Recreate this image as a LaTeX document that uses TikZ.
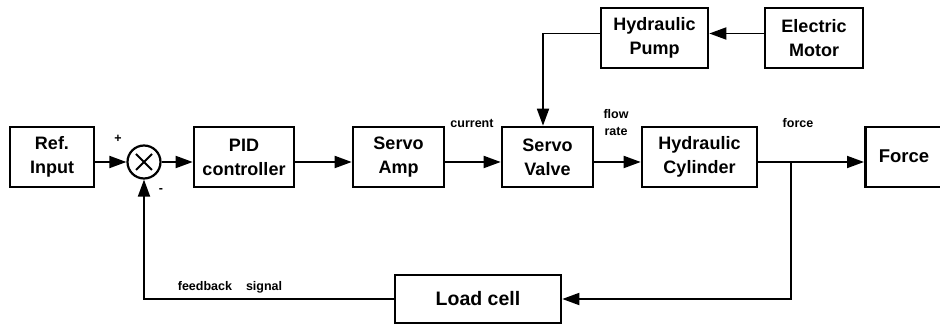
\documentclass[tikz,border=0pt]{standalone}
\usepackage{fontspec}
\setmainfont{Liberation Sans}
\usetikzlibrary{arrows.meta}
\begin{document}
\begin{tikzpicture}[x=1pt,y=-1pt,
  blk/.style={draw, line width=2.6pt, rectangle, minimum height=60pt, inner sep=0pt,
     align=center, font=\fontsize{18}{24}\selectfont\bfseries},
  lbl/.style={font=\fontsize{12.5}{17}\selectfont\bfseries, inner sep=0pt, align=center},
  arr/.style={line width=1.8pt, -{Triangle[length=17pt,width=12pt]}},
  ln/.style={line width=1.8pt}]
\clip (0,0) rectangle (940,328);
\fill[white] (0,0) rectangle (940,328);
% blocks
\node[blk, minimum width=84pt] (ref) at (52,157) {Ref.\\Input};
\node[circle, draw, line width=2.2pt, minimum size=33pt, inner sep=0pt] (sum) at (144,162) {};
\draw[line width=2pt] ([shift={(-8,-8)}]sum.center) -- ([shift={(8,8)}]sum.center)
                      ([shift={(-8,8)}]sum.center) -- ([shift={(8,-8)}]sum.center);
\node[blk, minimum width=100pt] (pid) at (244,157) {PID\\controller};
\node[blk, minimum width=91pt] (amp) at (398.5,157) {Servo\\Amp};
\node[blk, minimum width=91pt] (valve) at (547.5,157) {Servo\\Valve};
\node[blk, minimum width=115pt] (cyl) at (699.5,157) {Hydraulic\\Cylinder};
\node[blk, minimum width=80pt, anchor=west] (force) at (864,157) {\hspace{0pt}};
\node[font=\fontsize{18.5}{24}\selectfont\bfseries, inner sep=0pt] (forcetxt) at (904,156) {Force};
\node[blk, minimum width=107pt] (pump) at (654.5,38) {Hydraulic\\Pump};
\node[blk, minimum width=98pt] (motor) at (814,38) {Electric\\Motor};
\node[blk, minimum width=166pt, minimum height=48pt, font=\fontsize{19.5}{24}\selectfont\bfseries] (load) at (478,299) {Load cell};
% branch point
\coordinate (br) at (791,162);
% main connectors
\draw[arr] (ref.east |- sum) -- (sum.west);
\draw[arr] (sum.east) -- (sum.east -| pid.west);
\draw[arr] (pid.east |- sum) -- (amp.west |- sum);
\draw[arr] (amp.east |- sum) -- (valve.west |- sum);
\draw[arr] (valve.east |- sum) -- (cyl.west |- sum);
\draw[arr] (cyl.east |- sum) -- (force.west |- sum);
% feedback
\draw[arr] (br) -- (br |- load) -- (load.east);
\draw[arr] (load.west) -- (sum |- load) -- (sum.south);
% pump / motor
\draw[arr] ([yshift=4.5pt]motor.west) -- ([yshift=4.5pt]pump.east);
\draw[arr] ([yshift=4.5pt]pump.west) -| ([xshift=-4.5pt]valve.north);
% labels
\node[lbl] (plus) at (118,139) {+};
\node[lbl] (minus) at (161,191) {-};
\node[lbl] (cur) at (472,123) {current};
\node[lbl] (flow) at (616,123) {flow\\rate};
\node[lbl] (frc) at (798,123) {force};
\node[lbl] (fb) at (230,287) {feedback\hspace{14pt}signal};
\end{tikzpicture}
\end{document}
